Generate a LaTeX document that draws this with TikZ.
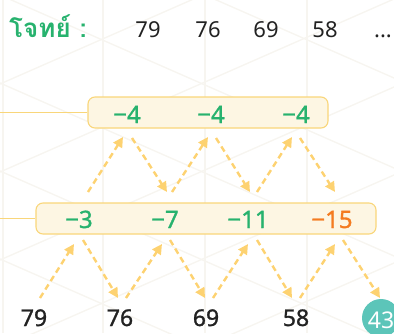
\documentclass[tikz,border=0pt]{standalone}
\usepackage{fontspec}
\setmainfont[Script=Thai]{Loma}
\newfontfamily\numfont{Noto Sans}
\newfontfamily\numfontb{Noto Sans}[FakeBold=1.2]
\usetikzlibrary{arrows.meta}
\definecolor{tgreen}{HTML}{27B26E}
\definecolor{torange}{HTML}{F47B20}
\definecolor{boxfill}{HTML}{FDF6E3}
\definecolor{boxline}{HTML}{F9D67A}
\definecolor{arrowc}{HTML}{FDD271}
\definecolor{teal}{HTML}{5CC5B9}
\definecolor{gridc}{HTML}{F7F5F0}
\definecolor{txt}{HTML}{222222}
\tikzset{
  diffbox/.style={draw=boxline, fill=boxfill, line width=1.1pt, rounded corners=7pt, minimum height=31pt, inner sep=0pt},
  diff/.style={text=tgreen, anchor=base, inner sep=0pt, font=\numfontb\fontsize{24}{24}\selectfont},
  num/.style={text=txt, anchor=base, inner sep=0pt, font=\numfontb\fontsize{23}{23}\selectfont},
  topnum/.style={text=txt, anchor=base, inner sep=0pt, font=\numfont\fontsize{22}{22}\selectfont},
  dasharrow/.style={draw=arrowc, line width=2.4pt, dash pattern=on 6pt off 4pt, -{Triangle[length=10pt,width=10pt]}},
  leader/.style={draw=boxline, line width=1.2pt},
  gridline/.style={draw=gridc, line width=1.4pt}
}
\begin{document}
\begin{tikzpicture}[x=1pt,y=-1pt]
\useasboundingbox (0,0) rectangle (394,333);
% faint background lattice
\begin{scope}
\clip (0,0) rectangle (394,333);
\foreach \xx in {3,103,205,307} {\draw[gridline] (\xx,0) -- (\xx,333);}
\foreach \c in {-271,-183,-95,-5,83,171,259,347} {\draw[gridline] (0,\c) -- (394,\c+173);}
\foreach \c in {84,172,260,348,436,524} {\draw[gridline] (0,\c) -- (394,\c-173);}
\end{scope}
% title row
\node[anchor=base west, inner sep=0pt, text=tgreen, font=\fontsize{26}{26}\selectfont\bfseries] (title) at (9,37) {โจทย์ :};
\node[topnum] (t1) at (148,37) {79};
\node[topnum] (t2) at (208,37) {76};
\node[topnum] (t3) at (266,37) {69};
\node[topnum] (t4) at (325,37) {58};
\node[topnum] (t5) at (383,37) {...};
% boxes
\node[diffbox, minimum width=240pt] (topbox) at (208,112.5) {};
\node[diffbox, minimum width=340pt] (botbox) at (206,218.5) {};
\coordinate (lt) at (0,112.5);
\coordinate (lb) at (0,218.5);
\draw[leader] (lt) -- (topbox.west);
\draw[leader] (lb) -- (botbox.west);
% second differences
\node[diff] (s1) at (127,123) {−4};
\node[diff] (s2) at (211,123) {−4};
\node[diff] (s3) at (296,123) {−4};
% first differences
\node[diff] (d1) at (79,228) {−3};
\node[diff] (d2) at (165,228) {−7};
\node[diff] (d3) at (248,228) {−11};
\node[diff, text=torange] (d4) at (332,228) {−15};
% sequence
\node[num] (n1) at (34,326) {79};
\node[num] (n2) at (120,326) {76};
\node[num] (n3) at (206,326) {69};
\node[num] (n4) at (296,326) {58};
\node[circle, fill=teal, minimum size=38pt, inner sep=0pt] (n5) at (381,318) {};
\node[anchor=base, inner sep=0pt, text=white, font=\numfont\fontsize{23}{23}\selectfont] (n5t) at (381,328) {43};
% lower arrows endpoints
\coordinate (u1s) at (40,298);  \coordinate (u1e) at (74,244);
\coordinate (v1s) at (83,240);  \coordinate (v1e) at (118,298);
\coordinate (u2s) at (126,298); \coordinate (u2e) at (162,244);
\coordinate (v2s) at (170,240); \coordinate (v2e) at (205,298);
\coordinate (u3s) at (213,298); \coordinate (u3e) at (248,244);
\coordinate (v3s) at (257,240); \coordinate (v3e) at (292,298);
\coordinate (u4s) at (300,298); \coordinate (u4e) at (335,244);
\coordinate (v4s) at (343,240); \coordinate (v4e) at (380,298);
\foreach \i in {1,2,3,4} {
  \draw[dasharrow] (u\i s) -- (u\i e);
  \draw[dasharrow] (v\i s) -- (v\i e);
}
% upper arrows endpoints
\coordinate (p1s) at (88,192);  \coordinate (p1e) at (123,137);
\coordinate (q1s) at (132,138); \coordinate (q1e) at (167,192);
\coordinate (p2s) at (172,192); \coordinate (p2e) at (208,137);
\coordinate (q2s) at (216,138); \coordinate (q2e) at (250,192);
\coordinate (p3s) at (257,192); \coordinate (p3e) at (292,137);
\coordinate (q3s) at (300,138); \coordinate (q3e) at (335,192);
\foreach \i in {1,2,3} {
  \draw[dasharrow] (p\i s) -- (p\i e);
  \draw[dasharrow] (q\i s) -- (q\i e);
}
\end{tikzpicture}
\end{document}
